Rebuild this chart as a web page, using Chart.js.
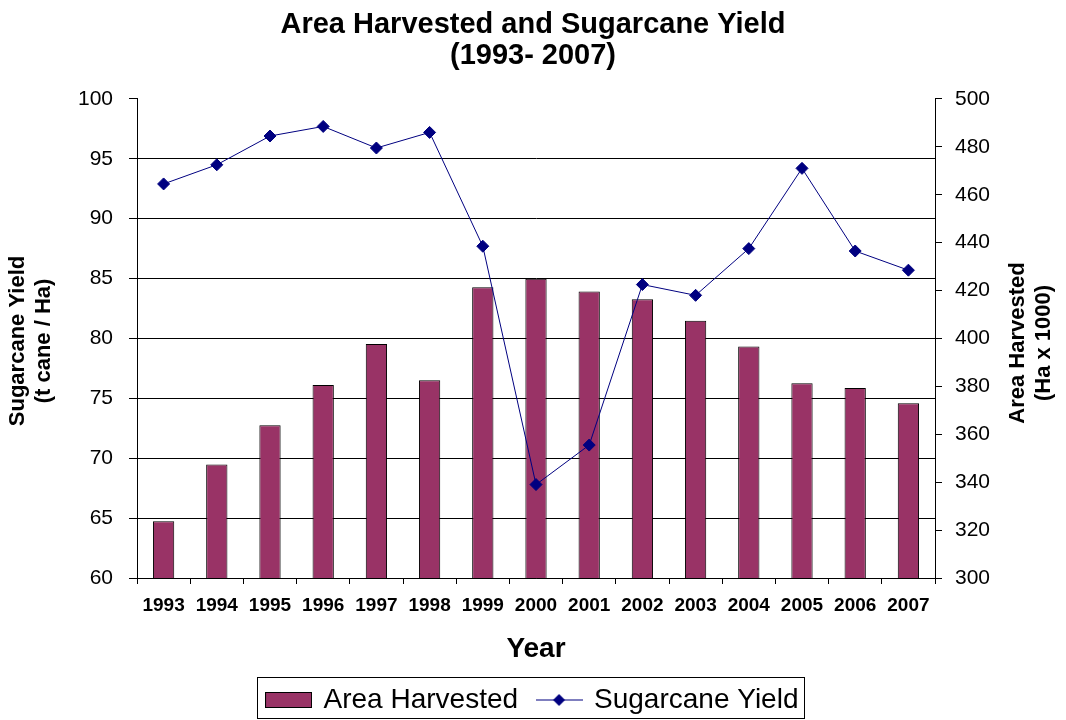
<!DOCTYPE html>
<html>
<head>
<meta charset="utf-8">
<title>Area Harvested and Sugarcane Yield</title>
<script src="https://cdn.jsdelivr.net/npm/chart.js@4.4.1/dist/chart.umd.min.js"></script>
<style>
    html, body { margin: 0; padding: 0; background: #ffffff; }
    #wrap { width: 1066px; height: 720px; }
</style>
</head>
<body>
<div id="wrap"><canvas id="yieldChart" width="1066" height="720"></canvas></div>
<script>
// Chart data
const years = ['1993', '1994', '1995', '1996', '1997', '1998', '1999', '2000',
               '2001', '2002', '2003', '2004', '2005', '2006', '2007'];
const areaHarvested = [323.7, 347.4, 363.8, 380.6, 397.7, 382.5, 421.4, 424.9,
                       419.6, 416.4, 407.4, 396.6, 381.3, 379.3, 373.0];
const sugarcaneYield = [92.9, 94.5, 96.9, 97.7, 95.9, 97.2, 87.7, 67.8,
                        71.1, 84.5, 83.6, 87.5, 94.2, 87.3, 85.7];
const yieldTicks = [60, 100, 5];   // min, max, step
const areaTicks = [300, 500, 20];

const titleLines = ['Area Harvested and Sugarcane Yield', '(1993- 2007)'];
const leftTitle = ['Sugarcane Yield', '(t cane / Ha)'];
const rightTitle = ['Area Harvested', '(Ha x 1000)'];

const BAR_COLOR = '#993366';
const LINE_COLOR = '#000080';
const FONT = "Arial, 'Liberation Sans', sans-serif";

// Legend icons
function makeBarSwatch() {
    const c = document.createElement('canvas');
    c.width = 47;
    c.height = 16;
    const g = c.getContext('2d');
    g.fillStyle = BAR_COLOR;
    g.fillRect(0.5, 0.5, 46, 15);
    g.strokeStyle = '#000';
    g.lineWidth = 1;
    g.strokeRect(0.5, 0.5, 46, 15);
    return c;
}

function makeLineSwatch() {
    const c = document.createElement('canvas');
    c.width = 47;
    c.height = 16;
    const g = c.getContext('2d');
    g.strokeStyle = LINE_COLOR;
    g.lineWidth = 1.2;
    g.beginPath();
    g.moveTo(0, 8);
    g.lineTo(47, 8);
    g.stroke();
    g.fillStyle = LINE_COLOR;
    g.beginPath();
    g.moveTo(23.5, 2);
    g.lineTo(29.5, 8);
    g.lineTo(23.5, 14);
    g.lineTo(17.5, 8);
    g.closePath();
    g.fill();
    return c;
}

const swatches = [makeBarSwatch(), makeLineSwatch()];

// Rotated axis titles and the legend frame
const extrasPlugin = {
    id: 'extras',
    afterDraw(chart) {
        const ctx = chart.ctx;
        ctx.save();
        ctx.fillStyle = '#000';
        ctx.font = 'bold 22px ' + FONT;
        ctx.textAlign = 'center';
        ctx.textBaseline = 'middle';
        drawRotated(ctx, leftTitle, [18, 44], 341);
        drawRotated(ctx, rightTitle, [1018, 1044], 343);

        const boxes = chart.legend.legendHitBoxes;
        if (boxes && boxes.length) {
            const first = boxes[0];
            const last = boxes[boxes.length - 1];
            const left = Math.round(first.left) - 10.5;
            const right = Math.round(last.left + last.width) + 6.5;
            const top = Math.round(first.top) - 8.5;
            const bottom = Math.round(first.top + first.height) + 4.5;
            ctx.strokeStyle = '#000';
            ctx.lineWidth = 1;
            ctx.strokeRect(left, top, right - left, bottom - top);
        }
        ctx.restore();
    }
};

function drawRotated(ctx, lines, xs, y) {
    lines.forEach((line, i) => {
        ctx.save();
        ctx.translate(xs[i], y);
        ctx.rotate(-Math.PI / 2);
        ctx.fillText(line, 0, 0);
        ctx.restore();
    });
}

function initializeChart() {
    const ctx = document.getElementById('yieldChart');

    new Chart(ctx.getContext('2d'), {
        type: 'bar',
        data: {
            labels: years,
            datasets: [{
                type: 'bar',
                label: 'Area Harvested',
                data: areaHarvested,
                yAxisID: 'y1',
                backgroundColor: BAR_COLOR,
                borderColor: '#000',
                borderWidth: 1,
                borderSkipped: false,
                categoryPercentage: 0.8,
                barPercentage: 0.5,
                order: 2
            }, {
                type: 'line',
                label: 'Sugarcane Yield',
                data: sugarcaneYield,
                yAxisID: 'y',
                borderColor: LINE_COLOR,
                borderWidth: 1,
                backgroundColor: LINE_COLOR,
                pointStyle: 'rectRot',
                pointRadius: 6,
                pointBorderWidth: 1,
                pointBackgroundColor: LINE_COLOR,
                pointBorderColor: LINE_COLOR,
                tension: 0,
                fill: false,
                order: 1
            }]
        },
        options: {
            responsive: false,
            animation: false,
            layout: {
                padding: { top: 0, left: 0, right: 0, bottom: -4 }
            },
            plugins: {
                title: {
                    display: true,
                    text: titleLines,
                    color: '#000',
                    font: { family: FONT, size: 29, weight: 'bold', lineHeight: 1.05 },
                    padding: { top: 10, bottom: 28 }
                },
                legend: {
                    position: 'bottom',
                    labels: {
                        color: '#000',
                        font: { family: FONT, size: 28 },
                        usePointStyle: true,
                        pointStyleWidth: 42,
                        padding: 20,
                        generateLabels: function(chart) {
                            return chart.data.datasets.map((ds, i) => ({
                                text: ds.label,
                                pointStyle: swatches[i],
                                fillStyle: 'transparent',
                                strokeStyle: 'transparent',
                                lineWidth: 0,
                                hidden: false,
                                datasetIndex: i
                            }));
                        }
                    }
                },
                tooltip: { enabled: false }
            },
            scales: {
                x: {
                    offset: true,
                    afterFit: function(scale) { scale.height = 88; },
                    border: { display: true, color: '#000', width: 1 },
                    grid: {
                        offset: true,
                        drawOnChartArea: false,
                        drawTicks: true,
                        tickLength: 6,
                        color: '#000'
                    },
                    ticks: {
                        color: '#000',
                        padding: 10,
                        maxRotation: 0,
                        autoSkip: false,
                        font: { family: FONT, size: 19, weight: 'bold' }
                    },
                    title: {
                        display: true,
                        text: 'Year',
                        color: '#000',
                        font: { family: FONT, size: 28, weight: 'bold' },
                        padding: { top: 0, bottom: 0 }
                    }
                },
                y: {
                    position: 'left',
                    min: yieldTicks[0],
                    max: yieldTicks[1],
                    afterFit: function(scale) { scale.width = 137; },
                    border: { display: true, color: '#000', width: 1 },
                    grid: {
                        color: (c) => (c.tick && c.tick.value === yieldTicks[1]) ? 'rgba(0,0,0,0)' : '#000',
                        tickColor: '#000',
                        lineWidth: 1,
                        tickLength: 8
                    },
                    ticks: {
                        stepSize: yieldTicks[2],
                        color: '#000',
                        padding: 16,
                        font: { family: FONT, size: 21 }
                    }
                },
                y1: {
                    position: 'right',
                    min: areaTicks[0],
                    max: areaTicks[1],
                    afterFit: function(scale) { scale.width = 131; },
                    border: { display: true, color: '#000', width: 1 },
                    grid: {
                        drawOnChartArea: false,
                        color: '#000',
                        tickLength: 7
                    },
                    ticks: {
                        stepSize: areaTicks[2],
                        color: '#000',
                        padding: 13,
                        font: { family: FONT, size: 21 }
                    }
                }
            }
        },
        plugins: [extrasPlugin]
    });
}

document.addEventListener('DOMContentLoaded', function() {
    initializeChart();
});
</script>
</body>
</html>
